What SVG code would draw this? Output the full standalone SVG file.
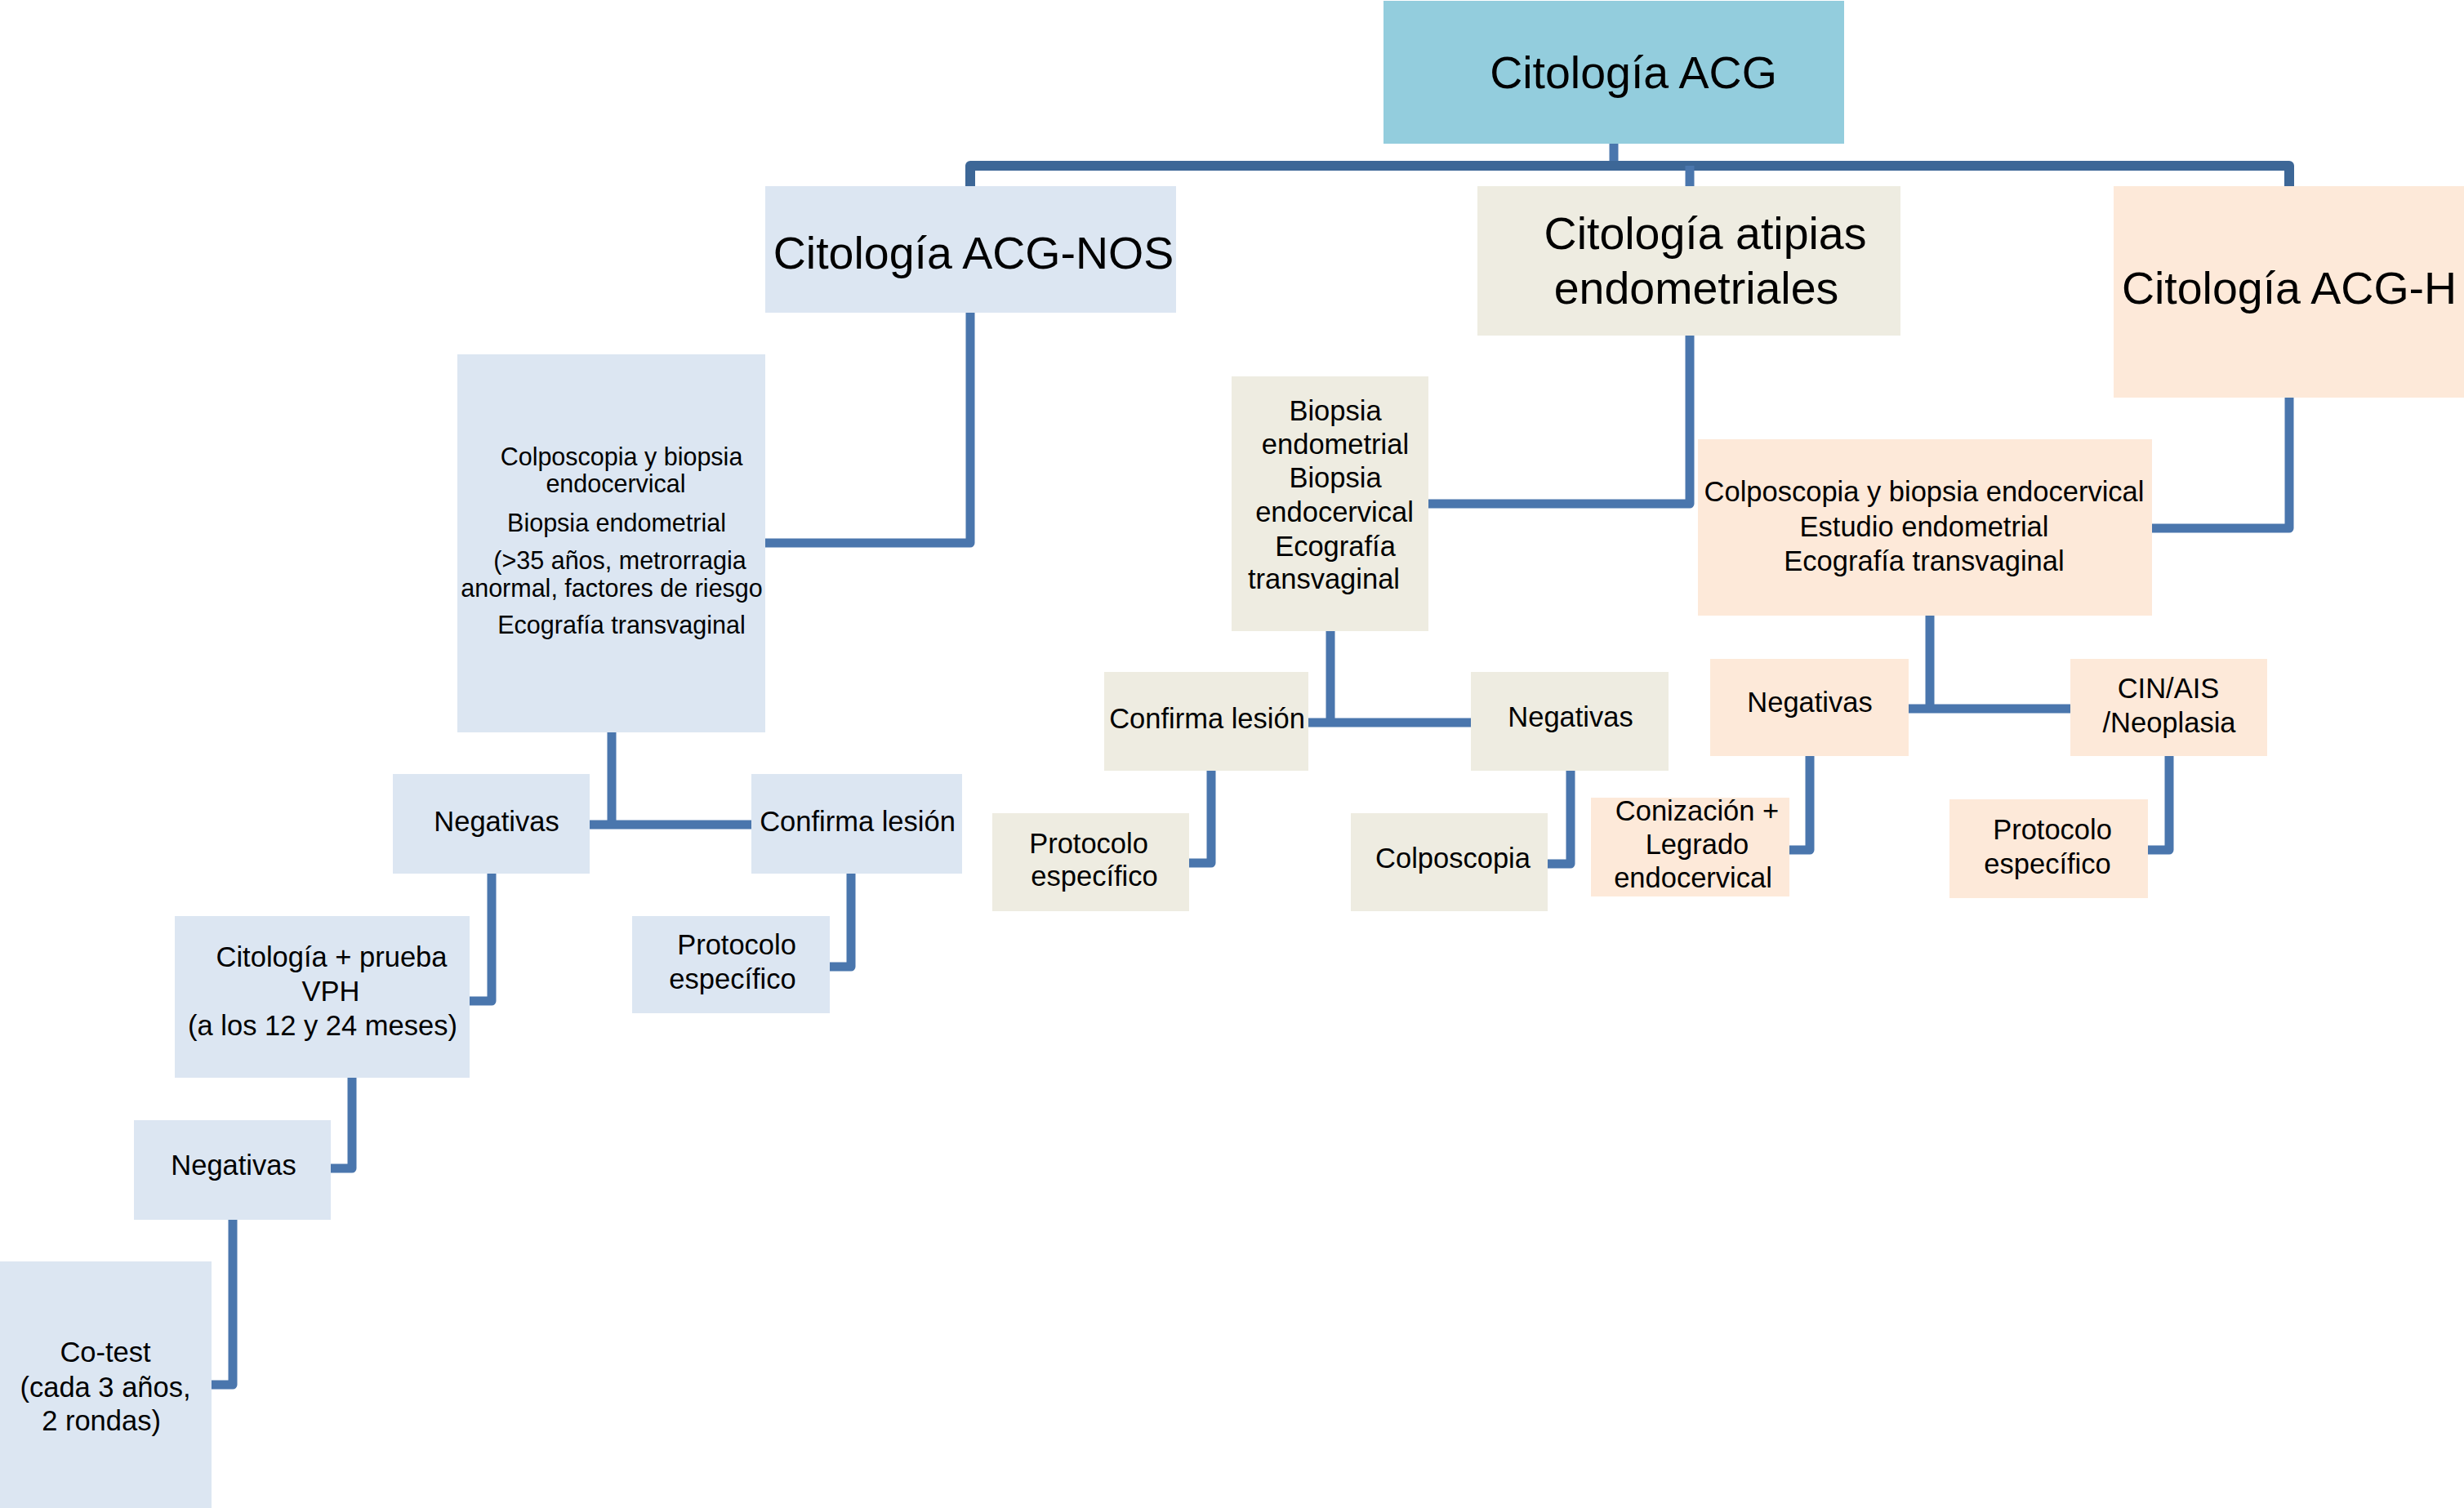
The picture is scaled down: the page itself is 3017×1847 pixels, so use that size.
<svg xmlns="http://www.w3.org/2000/svg" width="3017" height="1847" viewBox="0 0 3017 1847">
<style>
  text { font-family: "Liberation Sans", Arial, sans-serif; fill: #000; text-anchor: middle; }
  .big { font-size: 55.5px; }
  .md { font-size: 34.5px; }
  .sm { font-size: 30.5px; }
  .blue { fill: #DCE6F2; }
  .beige { fill: #EEECE1; }
  .peach { fill: #FDE9D9; }
  .root { fill: #93CDDD; }
  .conn path { fill: none; stroke: #4A76AD; stroke-width: 11; stroke-linejoin: round; stroke-linecap: butt; }
  .conn path.top { stroke: #3D6797; stroke-width: 12; }
</style>
<rect width="3017" height="1847" fill="#FFFFFF"/>

<g id="connectors" class="conn">
  <path d="M1976,176 V203"/>
  <path class="top" d="M1188,228 V203 H2803 V228"/>
  <path d="M2069,203 V228"/>
  <path d="M1188,383 V665 H937"/>
  <path d="M749,897 V1010"/>
  <path d="M722,1010 H920"/>
  <path d="M602,1070 V1226 H575"/>
  <path d="M1042,1070 V1184 H1016"/>
  <path d="M431,1320 V1431 H405"/>
  <path d="M285,1494 V1696 H259"/>
  <path d="M2069,411 V617 H1749"/>
  <path d="M1629,773 V885"/>
  <path d="M1602,885 H1801"/>
  <path d="M1483,944 V1057 H1456"/>
  <path d="M1923,944 V1058 H1895"/>
  <path d="M2803,487 V647 H2635"/>
  <path d="M2363,754 V868"/>
  <path d="M2337,868 H2535"/>
  <path d="M2216,926 V1041 H2191"/>
  <path d="M2656,926 V1041 H2630"/>
</g>

<g id="root">
  <rect class="root" x="1694" y="1" width="564" height="175"/>
  <text class="big" x="2000" y="108">Citología ACG</text>
</g>

<g id="acg-nos">
  <rect class="blue" x="937" y="228" width="503" height="155"/>
  <text class="big" x="1192" y="329">Citología ACG-NOS</text>
</g>

<g id="atipias">
  <rect class="beige" x="1809" y="228" width="518" height="183"/>
  <text class="big" x="2088" y="305">Citología atipias</text>
  <text class="big" x="2077" y="372">endometriales</text>
</g>

<g id="acg-h">
  <rect class="peach" x="2588" y="228" width="429" height="259"/>
  <text class="big" x="2803" y="372">Citología ACG-H</text>
</g>

<g id="nos-estudio">
  <rect class="blue" x="560" y="434" width="377" height="463"/>
  <text class="sm" x="761" y="570">Colposcopia y biopsia</text>
  <text class="sm" x="754" y="603">endocervical</text>
  <text class="sm" x="755" y="651">Biopsia endometrial</text>
  <text class="sm" x="759" y="697">(&gt;35 años, metrorragia</text>
  <text class="sm" x="749" y="731">anormal, factores de riesgo</text>
  <text class="sm" x="761" y="776">Ecografía transvaginal</text>
</g>

<g id="nos-negativas">
  <rect class="blue" x="481" y="948" width="241" height="122"/>
  <text class="md" x="608" y="1018">Negativas</text>
</g>

<g id="nos-confirma">
  <rect class="blue" x="920" y="948" width="258" height="122"/>
  <text class="md" x="1050" y="1018">Confirma lesión</text>
</g>

<g id="nos-citologia-vph">
  <rect class="blue" x="214" y="1122" width="361" height="198"/>
  <text class="md" x="406" y="1184">Citología + prueba</text>
  <text class="md" x="405" y="1226">VPH</text>
  <text class="md" x="395" y="1268">(a los 12 y 24 meses)</text>
</g>

<g id="nos-protocolo">
  <rect class="blue" x="774" y="1122" width="242" height="119"/>
  <text class="md" x="902" y="1169">Protocolo</text>
  <text class="md" x="897" y="1211">específico</text>
</g>

<g id="nos-negativas-2">
  <rect class="blue" x="164" y="1372" width="241" height="122"/>
  <text class="md" x="286" y="1439">Negativas</text>
</g>

<g id="nos-cotest">
  <rect class="blue" x="0" y="1545" width="259" height="302"/>
  <text class="md" x="129" y="1668">Co-test</text>
  <text class="md" x="129" y="1711">(cada 3 años,</text>
  <text class="md" x="124" y="1752">2 rondas)</text>
</g>

<g id="at-biopsia">
  <rect class="beige" x="1508" y="461" width="241" height="312"/>
  <text class="md" x="1635" y="515">Biopsia</text>
  <text class="md" x="1635" y="556">endometrial</text>
  <text class="md" x="1635" y="597">Biopsia</text>
  <text class="md" x="1634" y="639">endocervical</text>
  <text class="md" x="1635" y="681">Ecografía</text>
  <text class="md" x="1621" y="721">transvaginal</text>
</g>

<g id="at-confirma">
  <rect class="beige" x="1352" y="823" width="250" height="121"/>
  <text class="md" x="1478" y="892">Confirma lesión</text>
</g>

<g id="at-negativas">
  <rect class="beige" x="1801" y="823" width="242" height="121"/>
  <text class="md" x="1923" y="890">Negativas</text>
</g>

<g id="at-protocolo">
  <rect class="beige" x="1215" y="996" width="241" height="120"/>
  <text class="md" x="1333" y="1045">Protocolo</text>
  <text class="md" x="1340" y="1085">específico</text>
</g>

<g id="at-colposcopia">
  <rect class="beige" x="1654" y="996" width="241" height="120"/>
  <text class="md" x="1779" y="1063">Colposcopia</text>
</g>

<g id="h-estudio">
  <rect class="peach" x="2079" y="538" width="556" height="216"/>
  <text class="md" x="2356" y="614">Colposcopia y biopsia endocervical</text>
  <text class="md" x="2356" y="657">Estudio endometrial</text>
  <text class="md" x="2356" y="699">Ecografía transvaginal</text>
</g>

<g id="h-negativas">
  <rect class="peach" x="2094" y="807" width="243" height="119"/>
  <text class="md" x="2216" y="872">Negativas</text>
</g>

<g id="h-cin">
  <rect class="peach" x="2535" y="807" width="241" height="119"/>
  <text class="md" x="2655" y="855">CIN/AIS</text>
  <text class="md" x="2656" y="897">/Neoplasia</text>
</g>

<g id="h-conizacion">
  <rect class="peach" x="1948" y="977" width="243" height="121"/>
  <text class="md" x="2078" y="1005">Conización +</text>
  <text class="md" x="2078" y="1046">Legrado</text>
  <text class="md" x="2073" y="1087">endocervical</text>
</g>

<g id="h-protocolo">
  <rect class="peach" x="2387" y="979" width="243" height="121"/>
  <text class="md" x="2513" y="1028">Protocolo</text>
  <text class="md" x="2507" y="1070">específico</text>
</g>
</svg>
